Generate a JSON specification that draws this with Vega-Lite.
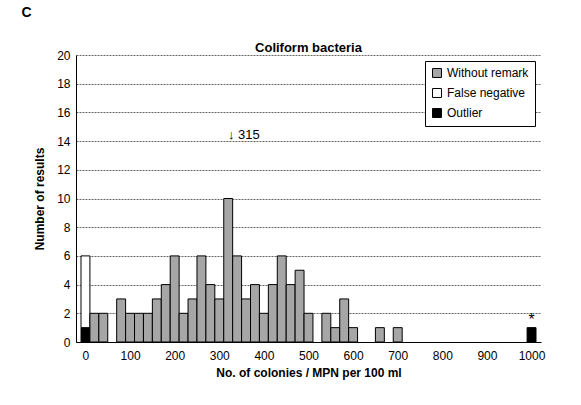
{
  "$schema": "https://vega.github.io/schema/vega-lite/v6.json",
  "autosize": {"type": "none"},
  "padding": {"left": 76, "top": 55, "right": 40, "bottom": 63},
  "width": 465,
  "height": 287,
  "background": "white",
  "config": {
    "font": "Liberation Sans",
    "view": {"stroke": null},
    "axis": {"labelFont": "Liberation Sans", "titleFont": "Liberation Sans", "labelColor": "black", "titleColor": "black", "labelFontSize": 12, "titleFontSize": 12, "domainColor": "black", "tickColor": "black", "labelOverlap": false, "ticks": false, "titleFontWeight": "bold"},
    "axisX": {"values": [0, 100, 200, 300, 400, 500, 600, 700, 800, 900, 1000], "format": "d", "grid": false, "titlePadding": 6, "labelPadding": 8},
    "axisY": {"values": [0, 2, 4, 6, 8, 10, 12, 14, 16, 18, 20], "grid": true, "gridColor": "black", "gridDash": [2, 1], "gridWidth": 0.6, "titlePadding": 10, "labelPadding": 6}
  },
  "datasets": {
    "bars": [
      {"x": 0, "count": 1, "type": "Outlier"},
      {"x": 0, "count": 5, "type": "False negative"},
      {"x": 20, "count": 2, "type": "Without remark"},
      {"x": 40, "count": 2, "type": "Without remark"},
      {"x": 80, "count": 3, "type": "Without remark"},
      {"x": 100, "count": 2, "type": "Without remark"},
      {"x": 120, "count": 2, "type": "Without remark"},
      {"x": 140, "count": 2, "type": "Without remark"},
      {"x": 160, "count": 3, "type": "Without remark"},
      {"x": 180, "count": 4, "type": "Without remark"},
      {"x": 200, "count": 6, "type": "Without remark"},
      {"x": 220, "count": 2, "type": "Without remark"},
      {"x": 240, "count": 3, "type": "Without remark"},
      {"x": 260, "count": 6, "type": "Without remark"},
      {"x": 280, "count": 4, "type": "Without remark"},
      {"x": 300, "count": 3, "type": "Without remark"},
      {"x": 320, "count": 10, "type": "Without remark"},
      {"x": 340, "count": 6, "type": "Without remark"},
      {"x": 360, "count": 3, "type": "Without remark"},
      {"x": 380, "count": 4, "type": "Without remark"},
      {"x": 400, "count": 2, "type": "Without remark"},
      {"x": 420, "count": 4, "type": "Without remark"},
      {"x": 440, "count": 6, "type": "Without remark"},
      {"x": 460, "count": 4, "type": "Without remark"},
      {"x": 480, "count": 5, "type": "Without remark"},
      {"x": 500, "count": 2, "type": "Without remark"},
      {"x": 540, "count": 2, "type": "Without remark"},
      {"x": 560, "count": 1, "type": "Without remark"},
      {"x": 580, "count": 3, "type": "Without remark"},
      {"x": 600, "count": 1, "type": "Without remark"},
      {"x": 660, "count": 1, "type": "Without remark"},
      {"x": 700, "count": 1, "type": "Without remark"},
      {"x": 1000, "count": 1, "type": "Outlier"}
    ],
    "notes": [
      {"x": 355, "y": 14.4, "label": "↓ 315", "size": 13},
      {"x": 1000, "y": 1.5, "label": "*", "size": 16}
    ],
    "heads": [
      {"x": -132, "y": 22.9, "label": "C", "size": 14},
      {"x": 500, "y": 20.5, "label": "Coliform bacteria", "size": 13}
    ]
  },
  "layer": [
    {
      "data": {"name": "bars"},
      "transform": [
        {"calculate": "datum.x - 10", "as": "x0"},
        {"calculate": "datum.x + 10", "as": "x1"},
        {"calculate": "datum.type === 'Outlier' ? 0 : 1", "as": "ord"}
      ],
      "mark": {"type": "bar", "stroke": "black", "strokeWidth": 1},
      "encoding": {
        "x": {
          "field": "x0", "type": "quantitative",
          "scale": {"domain": [-10, 1010], "nice": false, "zero": false},
          "title": "No. of colonies / MPN per 100 ml"
        },
        "x2": {"field": "x1"},
        "y": {
          "aggregate": "sum", "field": "count", "type": "quantitative", "stack": "zero",
          "scale": {"domain": [0, 20]},
          "title": "Number of results"
        },
        "color": {
          "field": "type", "type": "nominal",
          "scale": {"domain": ["Without remark", "False negative", "Outlier"], "range": ["#a6a6a6", "#ffffff", "#000000"]},
          "legend": {"title": null, "orient": "top-right", "symbolType": "square", "symbolStrokeColor": "black", "symbolStrokeWidth": 1, "symbolSize": 80, "labelFontSize": 12, "labelFont": "Liberation Sans", "labelColor": "black", "strokeColor": "black", "padding": 6, "fillColor": "white", "offset": 6, "rowPadding": 6}
        },
        "order": {"field": "ord"}
      }
    },
    {
      "data": {"name": "notes"},
      "mark": {"type": "text", "clip": false, "color": "black", "font": "Liberation Sans", "baseline": "middle"},
      "encoding": {
        "x": {"field": "x", "type": "quantitative", "title": "No. of colonies / MPN per 100 ml"},
        "y": {"field": "y", "type": "quantitative", "title": "Number of results"},
        "text": {"field": "label"},
        "size": {"field": "size", "type": "quantitative", "scale": null}
      }
    },
    {
      "data": {"name": "heads"},
      "mark": {"type": "text", "clip": false, "color": "black", "font": "Liberation Sans", "baseline": "middle", "fontWeight": "bold"},
      "encoding": {
        "x": {"field": "x", "type": "quantitative", "title": "No. of colonies / MPN per 100 ml"},
        "y": {"field": "y", "type": "quantitative", "title": "Number of results"},
        "text": {"field": "label"},
        "size": {"field": "size", "type": "quantitative", "scale": null}
      }
    }
  ]
}
